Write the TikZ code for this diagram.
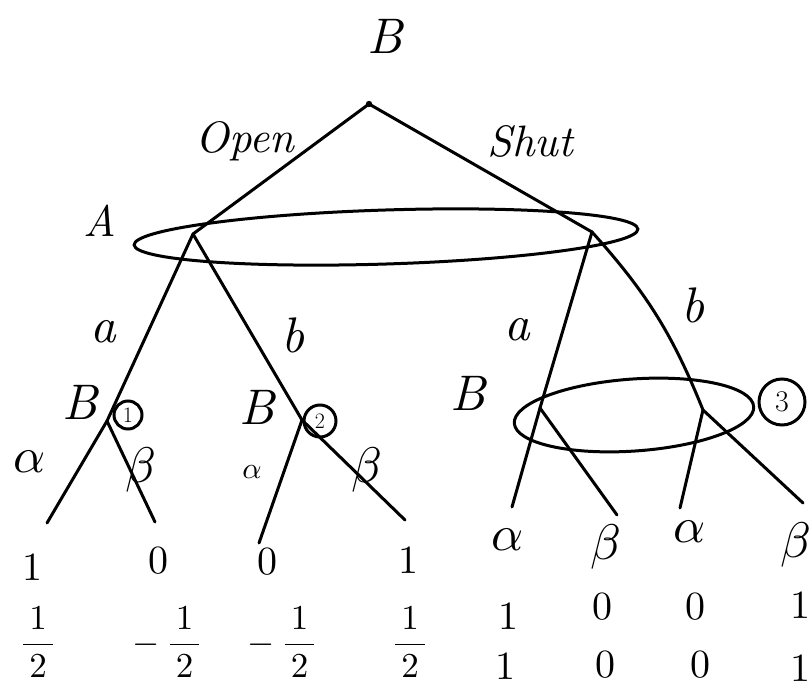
\documentclass[tikz,border=0pt]{standalone}
\usepackage{amsmath}
\begin{document}
\begin{tikzpicture}[x=1pt,y=-1pt,line width=3pt,line cap=round,
  lbl/.style={font=\itshape,scale=5},
  word/.style={font=\itshape,scale=4.4},
  grk/.style={scale=5},
  num/.style={scale=4},
  frc/.style={scale=3.5},
  circnum/.style={draw,circle,inner sep=0pt,minimum size=28pt,font=\fontsize{22}{24}\selectfont}]
  \useasboundingbox (0,0) rectangle (811,692);
  % --- decision points
  \coordinate (root) at (369,104);
  \coordinate (LA) at (193,234);
  \coordinate (RA) at (592,232);
  \coordinate (N1) at (107,421);
  \coordinate (N2) at (302,420);
  \coordinate (R1) at (540,408);
  \coordinate (R2) at (703,410);
  % --- terminal ends
  \coordinate (L1) at (47,523);
  \coordinate (L2) at (155,522);
  \coordinate (L3) at (259,543);
  \coordinate (L4) at (405,520);
  \coordinate (L5) at (512,507);
  \coordinate (L6) at (617,515);
  \coordinate (L7) at (680,508);
  \coordinate (L8) at (803,503);
  \fill (root) circle (3.2pt);
  % --- branches
  \draw (root) -- (LA);
  \draw (root) -- (RA);
  \draw (LA) -- (N1);
  \draw (LA) -- (N2);
  \draw (RA) -- (R1);
  \draw (RA) to[bend left=10] (R2);
  \draw (N1) -- (L1);
  \draw (N1) -- (L2);
  \draw (N2) -- (L3);
  \draw (N2) -- (L4);
  \draw (R1) -- (L5);
  \draw (R1) -- (L6);
  \draw (R2) -- (L7);
  \draw (R2) -- (L8);
  % --- information sets
  \draw[rotate around={1.8:(386,237)}] (386,237) ellipse [x radius=252, y radius=27];
  \draw[rotate around={4:(634,415)}] (634,415) ellipse [x radius=120, y radius=36];
  % --- players and moves
  \node[lbl] (bRoot) at (385,36) {B};
  \node[word,anchor=base] (open) at (245,153) {Open};
  \node[word,anchor=base] (shut) at (530,157) {Shut};
  \node[word] (pA) at (100,221) {A};
  \node[lbl] (aL) at (103,332) {a};
  \node[lbl] (bL) at (293,335) {b};
  \node[lbl] (aR) at (517,330) {a};
  \node[lbl] (bR) at (693,305) {b};
  \node[lbl] (pB1) at (80,402) {B};
  \node[lbl] (pB2) at (257,407) {B};
  \node[lbl] (pB3) at (468,393) {B};
  \node[circnum] (c1) at (128,415) {1};
  \node[circnum,minimum size=32pt] (c2) at (320,421) {2};
  \node[circnum,minimum size=46pt,font=\fontsize{30}{32}\selectfont] (c3) at (782,402) {3};
  \node[grk] (al1) at (30,462) {$\alpha$};
  \node[grk] (be1) at (141,470) {$\beta$};
  \node[grk,scale=0.6] (al2) at (252,472) {$\alpha$};
  \node[grk] (be2) at (367,470) {$\beta$};
  \node[grk] (al3) at (508,540) {$\alpha$};
  \node[grk] (be3) at (606,547) {$\beta$};
  \node[grk] (al4) at (690,532) {$\alpha$};
  \node[grk] (be4) at (796,545) {$\beta$};
  % --- payoffs
  \node[num] (pa1) at (32,567) {1};
  \node[num] (pa2) at (158,561) {0};
  \node[num] (pa3) at (267,562) {0};
  \node[num] (pa4) at (408,560) {1};
  \node[frc] (pb1) at (38,642) {$\dfrac{\,1\,}{\,2\,}$};
  \node[frc] (pb2) at (168,642) {$-\,\dfrac{\,1\,}{2}$};
  \node[frc] (pb3) at (283,642) {$-\,\dfrac{\,1\,}{2}$};
  \node[frc] (pb4) at (410,642) {$\dfrac{\,1\,}{\,2\,}$};
  \node[num] (pc1) at (508,616) {1};
  \node[num] (pc2) at (602,607) {0};
  \node[num] (pc3) at (695,607) {0};
  \node[num] (pc4) at (800,605) {1};
  \node[num] (pd1) at (505,666) {1};
  \node[num] (pd2) at (605,665) {0};
  \node[num] (pd3) at (700,665) {0};
  \node[num] (pd4) at (800,668) {1};
\end{tikzpicture}
\end{document}
